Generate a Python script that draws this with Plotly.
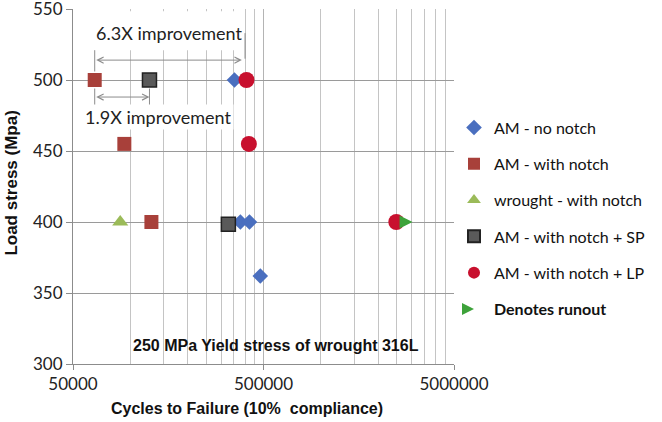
import plotly.graph_objects as go
import math

# cycles to failure / load stress (MPa)
am_no_notch_x = [352000, 378000, 422000, 481000]
am_no_notch_y = [500, 400, 400, 362]

am_notch_x = [65000, 93000, 129000]
am_notch_y = [500, 455, 400]

wrought_notch_x = [88500]
wrought_notch_y = [400]

am_notch_sp_x = [126000, 327000]
am_notch_sp_y = [500, 398.5]

am_notch_lp_x = [407000, 419000, 2490000]
am_notch_lp_y = [500, 455, 400]

runout_x = [3030000]
runout_y = [400]

major_ticks = [50000, 500000, 5000000]
minor_ticks = [50000 * k for k in range(2, 10)] + [500000 * k for k in range(2, 10)]
y_ticks = [300, 350, 400, 450, 500, 550]

FONT = "Lato"
BOLD = "Liberation Sans Narrow, Liberation Sans, Arial"

fig = go.Figure()


def add(name, xs, ys, symbol, color, size, line_color=None, line_width=0):
    fig.add_trace(go.Scatter(
        x=xs, y=ys, mode="markers", name=name, legendgroup=name,
        marker=dict(symbol=symbol, color=color, size=size,
                    line=dict(color=line_color or color, width=line_width)),
    ))


add("AM - no notch", am_no_notch_x, am_no_notch_y, "diamond", "#4A6FBF", 12)
add("AM - with notch", am_notch_x, am_notch_y, "square", "#A8403A", 14)
add("wrought - with notch", wrought_notch_x, wrought_notch_y, "triangle-up", "#9BBB59", 14)
add("AM - with notch + SP", am_notch_sp_x, am_notch_sp_y, "square", "#5A5A5A", 14, "#222222", 1.5)
add("AM - with notch + LP", am_notch_lp_x, am_notch_lp_y, "circle", "#C8102E", 16)
add("<b>Denotes runout</b>", runout_x, runout_y, "arrow-right", "#3DA23A", 13)

grey = "#8C8C8C"
# white box behind the top label
fig.add_shape(type="rect", x0=52500, x1=390000, y0=521, y1=548.5,
              fillcolor="white", line_width=0, layer="between")

# improvement arrows
for x0, x1, y in [(65000, 385000, 514), (65000, 126000, 488)]:
    fig.add_annotation(x=math.log10(x1), y=y, ax=math.log10(x0), ay=y,
                       xref="x", yref="y", axref="x", ayref="y",
                       text="", showarrow=True, arrowhead=5, startarrowhead=5,
                       arrowside="end+start", arrowsize=1.2, arrowwidth=1,
                       arrowcolor=grey)
# extension ticks
for x, y0, y1 in [(65000, 506, 521), (65000, 482, 494), (126000, 482, 494), (400000, 515, 533)]:
    fig.add_shape(type="line", x0=x, x1=x, y0=y0, y1=y1, line=dict(color=grey, width=1))

fig.add_annotation(x=math.log10(161000), y=533, xref="x", yref="y", showarrow=False,
                   text="6.3X improvement", font=dict(family=FONT, size=18, color="#222222"))
fig.add_annotation(x=math.log10(140500), y=474, xref="x", yref="y", showarrow=False,
                   text="1.9X improvement", bgcolor="white",
                   font=dict(family=FONT, size=18, color="#222222"))
fig.add_annotation(x=math.log10(580000), y=313, xref="x", yref="y", showarrow=False,
                   text="<b>250 MPa Yield stress of wrought 316L</b>",
                   font=dict(family=BOLD, size=16, color="#111111"))
fig.add_annotation(x=0.457, y=-0.124, xref="paper", yref="paper", showarrow=False,
                   xanchor="center", yanchor="middle",
                   text="<b>Cycles to Failure (10%  compliance)</b>",
                   font=dict(family=BOLD, size=16, color="#111111"))
fig.add_annotation(x=-0.161, y=0.51, xref="paper", yref="paper", showarrow=False,
                   xanchor="center", yanchor="middle",
                   textangle=-90, text="<b>Load stress (Mpa)</b>",
                   font=dict(family=BOLD, size=17, color="#111111"))

fig.update_xaxes(
    type="log", range=[math.log10(50000), math.log10(5000000)],
    tickvals=major_ticks, ticktext=[str(v) for v in major_ticks],
    ticks="outside", ticklen=5, tickcolor=grey,
    showgrid=True, gridcolor="#B4B4B4", gridwidth=1,
    minor=dict(tickvals=minor_ticks, showgrid=True, gridcolor="#C4C4C4", gridwidth=1, ticks=""),
    showline=True, linecolor=grey, linewidth=1, mirror=False, zeroline=False,
    tickfont=dict(family=FONT, size=17, color="#222222"),
    automargin=False,
)
fig.update_yaxes(
    range=[300, 550], tickvals=y_ticks,
    ticks="outside", ticklen=6, tickcolor=grey,
    showgrid=True, gridcolor="#9A9A9A", gridwidth=1,
    showline=True, linecolor=grey, linewidth=1, zeroline=False,
    tickfont=dict(family=FONT, size=17, color="#222222"),
    ticklabeloverflow="allow", automargin=False,
)

fig.update_layout(
    width=662, height=422,
    margin=dict(l=73, r=208, t=9, b=58),
    paper_bgcolor="white", plot_bgcolor="white",
    legend=dict(x=1.0, y=0.714, xanchor="left", yanchor="top",
                tracegroupgap=12.5, traceorder="grouped",
                font=dict(family=FONT, size=16, color="#111111"),
                itemsizing="constant", bgcolor="rgba(0,0,0,0)"),
)

# drop the default body margin so the figure fills the window
fig.write_html("out.html", config={"displayModeBar": False},
               post_script="document.body.style.margin='0';")
